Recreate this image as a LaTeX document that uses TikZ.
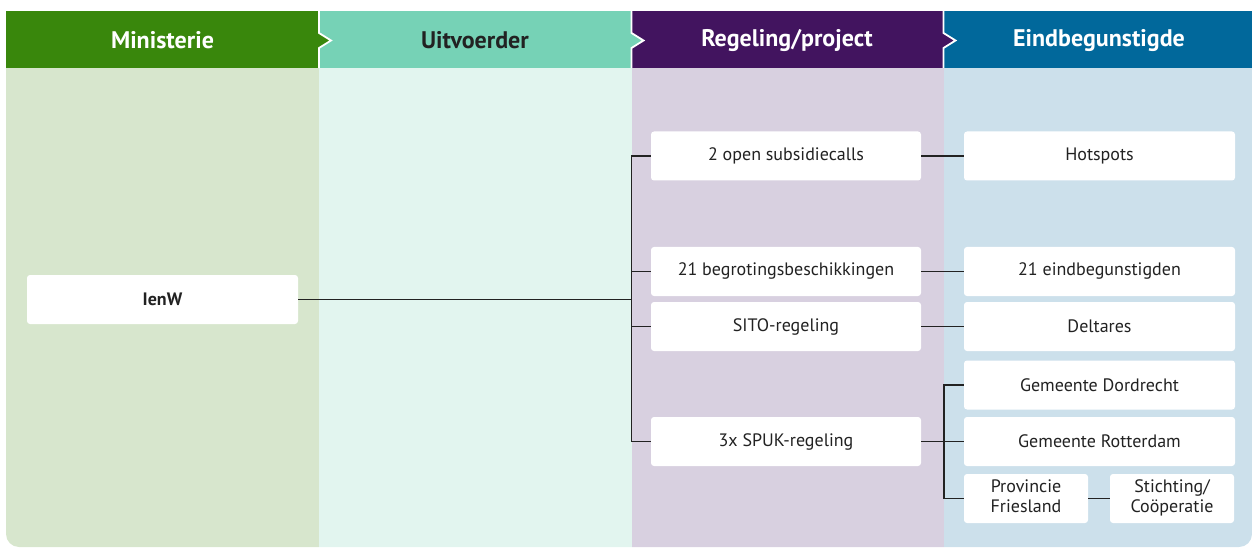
\documentclass[tikz,border=0pt]{standalone}
\usepackage{fontspec}
\setmainfont{PT Sans}
\definecolor{hgreen}{HTML}{39870C}
\definecolor{hmint}{HTML}{76D2B6}
\definecolor{hpurple}{HTML}{42145F}
\definecolor{hblue}{HTML}{01689B}
\definecolor{bgreen}{HTML}{D7E6CD}
\definecolor{bmint}{HTML}{E2F5EF}
\definecolor{bpurple}{HTML}{D8D0E0}
\definecolor{bblue}{HTML}{CCE0EB}
\definecolor{txt}{HTML}{222222}
\definecolor{conn}{HTML}{222222}
\begin{document}
\begin{tikzpicture}[x=1pt,y=-1pt,
  head/.style={font=\fontsize{24}{28}\selectfont\bfseries},
  box/.style={fill=white,rounded corners=3pt,minimum height=49pt,inner sep=0pt,
    text=txt,font=\fontsize{18}{20}\selectfont,align=center},
  rbox/.style={box,minimum width=270pt},
  ebox/.style={box,minimum width=271pt},
  sbox/.style={box,minimum width=124pt},
  link/.style={draw=conn,line width=1.3pt}]
\useasboundingbox (0,0) rectangle (1253,548);
\begin{scope}
\clip[rounded corners=13pt] (6,-30) rectangle (1252,547);
% bodies
\fill[bgreen] (6,68) rectangle (319,548);
\fill[bmint] (319,68) rectangle (631.5,548);
\fill[bpurple] (631.5,68) rectangle (943.5,548);
\fill[bblue] (943.5,68) rectangle (1253,548);
% headers
\fill[hgreen] (6,11) rectangle (319,68);
\fill[hmint] (319,11) rectangle (631.5,68);
\fill[hpurple] (631.5,11) rectangle (943.5,68);
\fill[hblue] (943.5,11) rectangle (1253,68);
\end{scope}
% chevrons
\foreach \b/\c in {319/hgreen,631.5/hmint,943.5/hpurple}{
  \fill[\c] (\b,33) -- (\b+12,40.5) -- (\b,48) -- cycle;
  \draw[white,line width=1.8pt] (\b,11) -- (\b,33) -- (\b+12,40.5) -- (\b,48) -- (\b,68);
}
\node[head,text=white] (hmin) at (162.5,40.5) {Ministerie};
\node[head,text=txt] (huit) at (475,40.5) {Uitvoerder};
\node[head,text=white] (hreg) at (787,40.5) {Regeling/project};
\node[head,text=white] (hein) at (1099,40.5) {Eindbegunstigde};
% nodes
\node[ebox,font=\fontsize{18}{20}\selectfont\bfseries] (ienw) at (162.5,299.5) {IenW};
\node[rbox] (open) at (786,156) {2 open subsidiecalls};
\node[ebox] (hot) at (1099.5,156) {Hotspots};
\node[rbox] (begr) at (786,271.5) {21 begrotingsbeschikkingen};
\node[ebox] (eind) at (1099.5,271.5) {21 eindbegunstigden};
\node[rbox] (sito) at (786,326.5) {SITO-regeling};
\node[ebox] (delt) at (1099.5,326.5) {Deltares};
\node[ebox] (dord) at (1099.5,385) {Gemeente Dordrecht};
\node[rbox] (spuk) at (786,441.5) {3x SPUK-regeling};
\node[ebox] (rott) at (1099.5,441.5) {Gemeente Rotterdam};
\node[sbox] (prov) at (1026,498.5) {\strut Provincie\\\strut Friesland};
\node[sbox] (stich) at (1172,498.5) {\strut Stichting/\\\strut Coöperatie};
% connectors
\coordinate (t1) at (631.5,299.5);
\coordinate (t2) at (944,441.5);
\draw[link] (ienw.east) -- (t1);
\draw[link] (open.west) -| (t1);
\draw[link] (spuk.west) -| (t1);
\draw[link] (begr.west) -- (begr.west -| t1);
\draw[link] (sito.west) -- (sito.west -| t1);
\draw[link] (open.east) -- (hot.west);
\draw[link] (begr.east) -- (eind.west);
\draw[link] (sito.east) -- (delt.west);
\draw[link] (spuk.east) -- (rott.west);
\draw[link] (dord.west) -| (t2);
\draw[link] (prov.west) -| (t2);
\draw[link] (prov.east) -- (stich.west);
\end{tikzpicture}
\end{document}
